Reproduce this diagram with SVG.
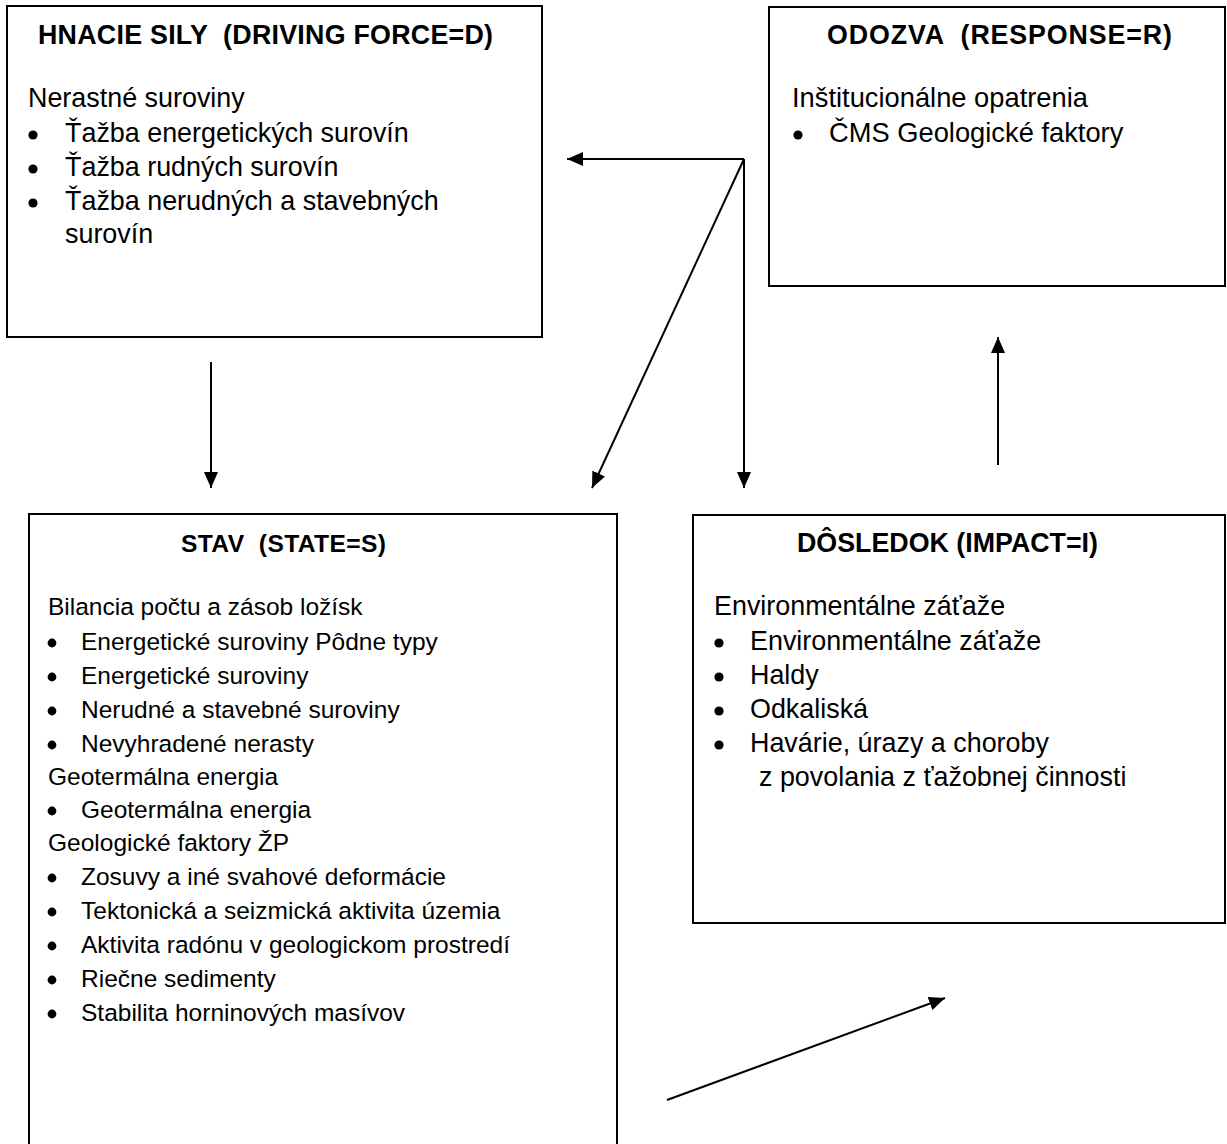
<svg xmlns="http://www.w3.org/2000/svg" width="1227" height="1144" viewBox="0 0 1227 1144">
<style>
  .box { fill: #ffffff; stroke: #000000; stroke-width: 2; }
  .t { font-family: "Liberation Sans", Arial, sans-serif; fill: #000000; }
  .title { font-weight: bold; font-size: 26.8px; }
  .body { font-size: 26.9px; }
  .rbody { font-size: 27.3px; }
  .stitle { font-weight: bold; font-size: 24.6px; }
  .sbody { font-size: 24.5px; }
  .dot { fill: #000000; }
  .conn { stroke: #000000; stroke-width: 2; fill: none; marker-end: url(#arrow); }
</style>
<defs>
  <marker id="arrow" markerUnits="userSpaceOnUse" markerWidth="16" markerHeight="14" refX="16" refY="7" orient="auto">
    <path d="M0,0 L16,7 L0,14 z" fill="#000000"/>
  </marker>
</defs>
<rect width="1227" height="1144" fill="#ffffff"/>

<g id="node-driving-force">
  <rect class="box" x="7" y="6" width="535" height="331"/>
  <text class="t title" x="38" y="44" xml:space="preserve" textLength="455" lengthAdjust="spacing">HNACIE SILY  (DRIVING FORCE=D)</text>
  <text class="t body" x="28" y="107">Nerastné suroviny</text>
  <circle class="dot" cx="33" cy="135" r="4.6"/>
  <text class="t body" x="65" y="142">Ťažba energetických surovín</text>
  <circle class="dot" cx="33" cy="169" r="4.6"/>
  <text class="t body" x="65" y="176">Ťažba rudných surovín</text>
  <circle class="dot" cx="33" cy="203" r="4.6"/>
  <text class="t body" x="65" y="210">Ťažba nerudných a stavebných</text>
  <text class="t body" x="65" y="243">surovín</text>
</g>

<g id="node-response">
  <rect class="box" x="769" y="7" width="456" height="279"/>
  <text class="t title" x="827" y="44" xml:space="preserve" textLength="345" lengthAdjust="spacing">ODOZVA  (RESPONSE=R)</text>
  <text class="t rbody" x="792" y="107">Inštitucionálne opatrenia</text>
  <circle class="dot" cx="798" cy="135" r="4.6"/>
  <text class="t rbody" x="829" y="142">ČMS Geologické faktory</text>
</g>

<g id="node-state">
  <rect class="box" x="29" y="514" width="588" height="650"/>
  <text class="t stitle" x="181" y="552" xml:space="preserve" textLength="205" lengthAdjust="spacing">STAV  (STATE=S)</text>
  <text class="t sbody" x="48" y="615">Bilancia počtu a zásob ložísk</text>
  <circle class="dot" cx="52" cy="643" r="4.4"/>
  <text class="t sbody" x="81" y="650">Energetické suroviny Pôdne typy</text>
  <circle class="dot" cx="52" cy="677" r="4.4"/>
  <text class="t sbody" x="81" y="684">Energetické suroviny</text>
  <circle class="dot" cx="52" cy="711" r="4.4"/>
  <text class="t sbody" x="81" y="718">Nerudné a stavebné suroviny</text>
  <circle class="dot" cx="52" cy="745" r="4.4"/>
  <text class="t sbody" x="81" y="752">Nevyhradené nerasty</text>
  <text class="t sbody" x="48" y="785">Geotermálna energia</text>
  <circle class="dot" cx="52" cy="811" r="4.4"/>
  <text class="t sbody" x="81" y="818">Geotermálna energia</text>
  <text class="t sbody" x="48" y="851">Geologické faktory ŽP</text>
  <circle class="dot" cx="52" cy="878" r="4.4"/>
  <text class="t sbody" x="81" y="885">Zosuvy a iné svahové deformácie</text>
  <circle class="dot" cx="52" cy="912" r="4.4"/>
  <text class="t sbody" x="81" y="919">Tektonická a seizmická aktivita územia</text>
  <circle class="dot" cx="52" cy="946" r="4.4"/>
  <text class="t sbody" x="81" y="953">Aktivita radónu v geologickom prostredí</text>
  <circle class="dot" cx="52" cy="980" r="4.4"/>
  <text class="t sbody" x="81" y="987">Riečne sedimenty</text>
  <circle class="dot" cx="52" cy="1014" r="4.4"/>
  <text class="t sbody" x="81" y="1021">Stabilita horninových masívov</text>
</g>

<g id="node-impact">
  <rect class="box" x="693" y="515" width="532" height="408"/>
  <text class="t title" x="797" y="552" textLength="301" lengthAdjust="spacing">DÔSLEDOK (IMPACT=I)</text>
  <text class="t body" x="714" y="615">Environmentálne záťaže</text>
  <circle class="dot" cx="719" cy="643" r="4.6"/>
  <text class="t body" x="750" y="650">Environmentálne záťaže</text>
  <circle class="dot" cx="719" cy="677" r="4.6"/>
  <text class="t body" x="750" y="684">Haldy</text>
  <circle class="dot" cx="719" cy="711" r="4.6"/>
  <text class="t body" x="750" y="718">Odkaliská</text>
  <circle class="dot" cx="719" cy="745" r="4.6"/>
  <text class="t body" x="750" y="752">Havárie, úrazy a choroby</text>
  <text class="t body" x="759" y="786">z povolania z ťažobnej činnosti</text>
</g>

<g id="connectors">
  <line class="conn" x1="211" y1="362" x2="211" y2="488"/>
  <line class="conn" x1="744" y1="159" x2="567" y2="159"/>
  <line class="conn" x1="744" y1="159" x2="592" y2="488"/>
  <line class="conn" x1="744" y1="159" x2="744" y2="488"/>
  <line class="conn" x1="998" y1="465" x2="998" y2="337"/>
  <line class="conn" x1="667" y1="1100" x2="945" y2="998"/>
</g>
</svg>
